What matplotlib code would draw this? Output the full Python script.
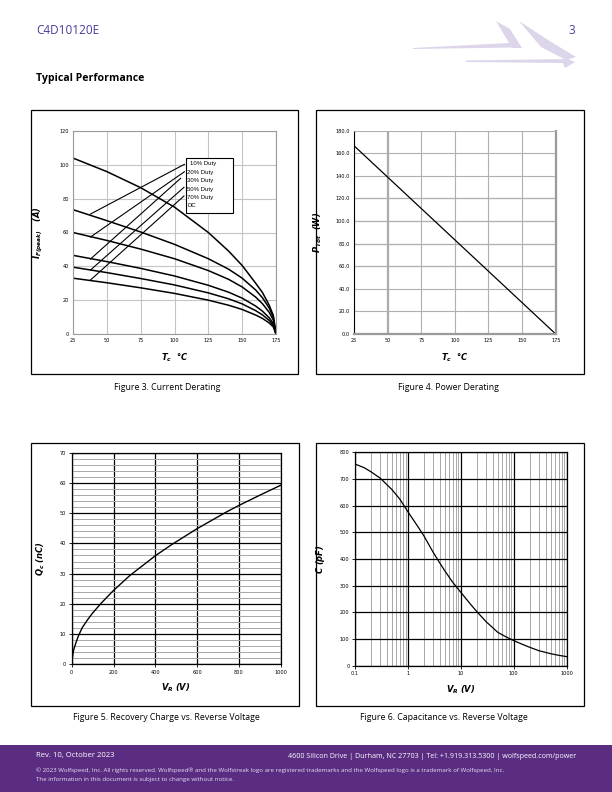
import matplotlib.pyplot as plt
import matplotlib.patches as mpatches
import matplotlib.ticker as mticker

W, H = 612, 792

# ---- data ----
tc_pts = [25, 50, 75, 100, 125, 140, 150, 160, 165, 170, 173, 175]
i_duty10 = [104, 96, 86.5, 75, 60, 49, 40.5, 30, 24.5, 17, 11, 0]
i_duty20 = [73.5, 67, 60.3, 53, 44.5, 38.3, 33, 26, 21.4, 15.3, 10, 0]
i_duty30 = [60, 55.3, 50.2, 44.5, 37.5, 32.3, 27.8, 21.8, 17.9, 12.8, 8.3, 0]
i_duty50 = [46.5, 42.8, 38.8, 34.3, 28.8, 24.7, 21.2, 16.5, 13.5, 9.6, 6.2, 0]
i_duty70 = [39.5, 36.3, 32.8, 29, 24.3, 20.8, 17.8, 13.8, 11.3, 8, 5.2, 0]
i_dc = [33, 30.3, 27.3, 24, 20, 17, 14.5, 11.2, 9.2, 6.5, 4.2, 0]
duty_labels = ['10% Duty', '20% Duty', '30% Duty', '50% Duty', '70% Duty', 'DC']
# leader lines: (label end T, label end I) -> (curve T, curve I)
leader_from = [(107.3, 100.3), (107.3, 95.9), (104.5, 92.0), (107.0, 86.7), (107.0, 81.6)]
leader_to = [(37.9, 70.9), (37.9, 57.3), (37.9, 44.3), (37.9, 37.8), (37.9, 31.9)]

tc_ptot = [25, 175]
p_tot = [166.7, 0.0]

vr_qc = [0, 5, 10, 20, 32, 50, 75, 100, 140, 200, 279, 400, 478, 600, 742, 800, 900, 1000]
qc = [0, 3, 4.8, 7, 9.3, 12, 14.6, 16.9, 20.1, 24.4, 29.4, 35.9, 39.6, 44.9, 50.5, 52.6, 56, 59.3]

vr_c = [0.1, 0.15, 0.2, 0.3, 0.5, 0.7, 1, 1.5, 2, 3, 4, 5, 7, 10, 15, 20, 30, 50, 70,
        100, 150, 200, 300, 500, 700, 1000]
cap = [756, 742, 727, 703, 660, 625, 577, 525, 487, 425, 385, 355, 313, 275, 232, 203,
       165, 125, 109, 94, 79, 69, 56, 45, 39, 34]

PURPLE = '#5a2d82'

plt.rcParams['mathtext.fontset'] = 'custom'
plt.rcParams['mathtext.rm'] = 'DejaVu Sans:bold:italic'
plt.rcParams['mathtext.it'] = 'DejaVu Sans:bold:italic'
plt.rcParams['mathtext.bf'] = 'DejaVu Sans:bold:italic'

fig = plt.figure(figsize=(W / 100, H / 100), dpi=100)


def fx(x):
    return x / W


def fy(y):
    return 1 - y / H


def add_axes_px(x0, y0, x1, y1):
    return fig.add_axes([fx(x0), fy(y1), (x1 - x0) / W, (y1 - y0) / H])


def box_px(x0, y0, x1, y1):
    fig.add_artist(mpatches.Rectangle((fx(x0), fy(y1)), (x1 - x0) / W, (y1 - y0) / H,
                                      transform=fig.transFigure, fill=False,
                                      edgecolor='black', linewidth=0.9))


tick_font = dict(fontsize=3.6, family=['Liberation Sans Narrow', 'DejaVu Sans'])
lab_font = dict(fontsize=6, fontweight='bold', fontstyle='italic')


def style_ticks(ax):
    for lbl in ax.get_xticklabels() + ax.get_yticklabels():
        lbl.set_fontsize(tick_font['fontsize'])
        lbl.set_family(tick_font['family'])


# ---- page furniture ----
fig.text(fx(36), fy(31), 'C4D10120E', fontsize=8.5, color='#4b3a99', va='center',
         family='Open Sans')
fig.text(fx(575), fy(31), '3', fontsize=8.5, color='#4b3a99', va='center', ha='right',
         family='Open Sans')
fig.text(fx(36), fy(79), 'Typical Performance', fontsize=7.6, fontweight='bold', va='center',
         family='Open Sans')

logo_col = '#ddd5ea'
logo_polys = [
    [(413, 48), (510, 43), (513, 47.5), (413, 49)],
    [(496, 21), (510, 29), (522, 48), (512, 48)],
    [(519, 21), (548, 40), (576, 57), (566, 60), (541, 47)],
    [(466, 60.5), (568, 59), (575, 62), (565, 68), (563, 63), (466, 62)],
]
for poly in logo_polys:
    fig.add_artist(mpatches.Polygon([(fx(a), fy(b)) for a, b in poly], closed=True,
                                    transform=fig.transFigure, facecolor=logo_col,
                                    edgecolor='none'))

fig.add_artist(mpatches.Rectangle((0, 0), 1, fy(745), transform=fig.transFigure,
                                  facecolor=PURPLE, edgecolor='none'))
fig.text(fx(36), fy(756), 'Rev. 10, October 2023', fontsize=5.6, color='white', va='center',
         family='Open Sans')
fig.text(fx(576), fy(756),
         '4600 Silicon Drive | Durham, NC 27703 | Tel: +1.919.313.5300 | wolfspeed.com/power',
         fontsize=5.1, color='white', va='center', ha='right', family='Open Sans')
fig.text(fx(36), fy(770),
         '\u00a9 2023 Wolfspeed, Inc. All rights reserved. Wolfspeed\u00ae and the Wolfstreak logo are '
         'registered trademarks and the Wolfspeed logo is a trademark of Wolfspeed, Inc.',
         fontsize=4.4, color='#e6def0', va='center', family='Open Sans')
fig.text(fx(36), fy(780), 'The information in this document is subject to change without notice.',
         fontsize=4.4, color='#e6def0', va='center', family='Open Sans')

# panel frames and captions
box_px(31, 110, 298, 374)
box_px(316, 110, 584, 374)
box_px(31, 443, 299, 706)
box_px(316, 443, 584, 706)
cap_font = dict(fontsize=6.3, ha='center', va='center', family='Open Sans')
fig.text(fx(167), fy(387), 'Figure 3. Current Derating', **cap_font)
fig.text(fx(448), fy(387), 'Figure 4. Power Derating', **cap_font)
fig.text(fx(166), fy(718), 'Figure 5. Recovery Charge vs. Reverse Voltage', **cap_font)
fig.text(fx(444), fy(718), 'Figure 6. Capacitance vs. Reverse Voltage', **cap_font)

# ---- Figure 3: current derating ----
ax3 = add_axes_px(73, 131, 276, 334)
for curve in [i_duty10, i_duty20, i_duty30, i_duty50, i_duty70, i_dc]:
    ax3.plot(tc_pts, curve, color='black', linewidth=1.1, solid_joinstyle='round')
for (x0, y0), (x1, y1) in zip(leader_from, leader_to):
    ax3.plot([x0, x1], [y0, y1], color='black', linewidth=0.8)
ax3.set_xlim(25, 175)
ax3.set_ylim(0, 120)
ax3.set_xticks(range(25, 176, 25))
ax3.set_yticks(range(0, 121, 20))
ax3.grid(True, color='#c4c4c4', linewidth=0.8)
ax3.set_axisbelow(True)
for s in ax3.spines.values():
    s.set_color('#9a9a9a')
    s.set_linewidth(0.8)
ax3.tick_params(length=0, pad=3)
style_ticks(ax3)
ax3.add_patch(mpatches.Rectangle((108.2, 71.3), 35.2, 32.7, facecolor='white',
                                 edgecolor='black', linewidth=0.8, zorder=5))
for k, txt in enumerate(duty_labels):
    ax3.text(109.5 if k else 111.3, 100.5 - 4.95 * k, txt, fontsize=4.3, va='center',
             zorder=6, family=['Liberation Sans', 'DejaVu Sans'])
ax3.set_xlabel(r'$T_{c}$  $\degree C$', labelpad=6, **lab_font)
ax3.set_ylabel(r'$I_{F(peak)}$   $(A)$', labelpad=10, **lab_font)

# ---- Figure 4: power derating ----
ax4 = add_axes_px(354, 130.7, 555.7, 334)
ax4.plot(tc_ptot, p_tot, color='black', linewidth=0.9)
ax4.set_xlim(25, 175)
ax4.set_ylim(0, 180)
ax4.set_xticks(range(25, 176, 25))
ax4.set_yticks(range(0, 181, 20))
ax4.yaxis.set_major_formatter(mticker.FormatStrFormatter('%.1f'))
ax4.grid(True, color='#b0b0b0', linewidth=0.8)
ax4.set_axisbelow(True)
for yv in (60, 80, 100, 120):
    ax4.axhline(yv, color='#555555', linewidth=0.8, zorder=0.5)
ax4.axvline(50, color='#a8a8a8', linewidth=1.6, zorder=0.5)
ax4.spines['left'].set_color('black')
ax4.spines['left'].set_linewidth(0.8)
ax4.spines['top'].set_color('#b0b0b0')
ax4.spines['top'].set_linewidth(0.6)
for side in ('bottom', 'right'):
    ax4.spines[side].set_color('#9a9a9a')
    ax4.spines[side].set_linewidth(1.6)
ax4.tick_params(length=0, pad=3)
style_ticks(ax4)
ax4.set_xlabel(r'$T_{c}$  $\degree C$', labelpad=6, **lab_font)
ax4.set_ylabel(r'$P_{Tot}$  $(W)$', labelpad=8, **lab_font)

# ---- Figure 5: recovery charge ----
ax5 = add_axes_px(71.7, 453, 280.7, 664)
ax5.plot(vr_qc, qc, color='black', linewidth=1.0)
ax5.set_xlim(0, 1000)
ax5.set_ylim(0, 70)
ax5.set_xticks(range(0, 1001, 200))
ax5.set_yticks(range(0, 71, 10))
ax5.yaxis.set_minor_locator(mticker.MultipleLocator(2))
ax5.grid(True, which='minor', axis='y', color='#a8a8a8', linewidth=0.7)
ax5.grid(True, which='major', color='black', linewidth=0.9)
ax5.set_axisbelow(True)
for s in ax5.spines.values():
    s.set_color('black')
    s.set_linewidth(0.9)
ax5.tick_params(which='major', length=2, width=0.6, pad=2)
ax5.tick_params(which='minor', length=0)
style_ticks(ax5)
ax5.set_xlabel(r'$V_{R}$ $(V)$', labelpad=5, **lab_font)
ax5.set_ylabel(r'$Q_{c}$ $(nC)$', labelpad=9, **lab_font)

# ---- Figure 6: capacitance ----
ax6 = add_axes_px(355, 452.3, 566.7, 665.7)
ax6.plot(vr_c, cap, color='black', linewidth=0.9)
ax6.set_xscale('log')
ax6.set_xlim(0.1, 1000)
ax6.set_ylim(0, 800)
ax6.set_xticks([0.1, 1, 10, 100, 1000])
ax6.xaxis.set_major_formatter(mticker.FuncFormatter(lambda v, p: f'{v:g}'))
ax6.xaxis.set_minor_locator(mticker.LogLocator(base=10, subs=range(2, 10)))
ax6.xaxis.set_minor_formatter(mticker.NullFormatter())
ax6.set_yticks(range(0, 801, 100))
ax6.grid(True, which='minor', axis='x', color='#a8a8a8', linewidth=0.7)
ax6.grid(True, which='major', color='black', linewidth=0.9)
ax6.set_axisbelow(True)
for s in ax6.spines.values():
    s.set_color('black')
    s.set_linewidth(0.9)
ax6.tick_params(which='major', length=2, width=0.6, pad=2)
ax6.tick_params(which='minor', length=0)
style_ticks(ax6)
ax6.set_xlabel(r'$V_{R}$ $(V)$', labelpad=5, **lab_font)
ax6.set_ylabel(r'$C$ $(pF)$', labelpad=9, **lab_font)

fig.savefig('out.png', dpi=100)
